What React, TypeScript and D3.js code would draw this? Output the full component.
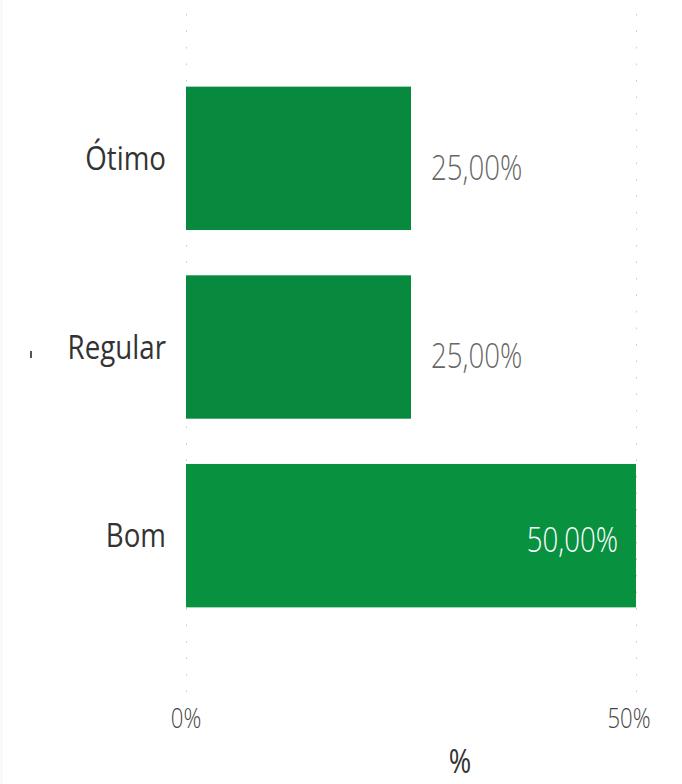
import React, { useRef, useEffect } from 'react';
import * as d3 from 'd3';

const categories = ['Ótimo', 'Regular', 'Bom'];
const values = [25, 25, 50];
const valueLabels = ['25,00%', '25,00%', '50,00%'];
const tickValues = [0, 50];
const tickLabels = ['0%', '50%'];

const W = 682;
const H = 784;
const FONT = "'Open Sans', 'DejaVu Sans Condensed', sans-serif";
const SX = 0.79; // the reference text is narrow and tall
const CAP = 0.714;

const App: React.FC = () => {
  const svgRef = useRef<SVGSVGElement>(null);

  useEffect(() => {
    if (!svgRef.current) return;
    const svg = d3.select(svgRef.current);
    svg.selectAll('*').remove();

    svg.append('rect').attr('width', W).attr('height', H).attr('fill', '#fff');
    // faint frame line at the left edge
    svg.append('rect')
      .attr('x', 0).attr('y', 0).attr('width', 3).attr('height', H)
      .attr('fill', '#f6fbf7');

    const x = d3.scaleLinear().domain([0, 50]).range([186, 636]);
    const y = d3.scaleBand<string>()
      .domain(categories)
      .range([64, 630])
      .paddingInner(0.24)
      .paddingOuter(0.12);

    // text placed by the vertical centre of its capitals
    const label = (g: any, tx: number, cy: number, size: number, anchor: string,
      fill: string, weight: number, txt: string, sx = SX) => {
      g.append('text')
        .attr('transform', `translate(${tx},${cy + (size * CAP) / 2}) scale(${sx},1)`)
        .attr('text-anchor', anchor)
        .attr('font-family', FONT)
        .attr('font-size', size)
        .attr('font-weight', weight)
        .attr('fill', fill)
        .text(txt);
    };

    // dotted gridlines
    svg.append('g')
      .selectAll('line')
      .data(tickValues)
      .enter()
      .append('line')
      .attr('x1', d => x(d) + 0.5)
      .attr('x2', d => x(d) + 0.5)
      .attr('y1', 14)
      .attr('y2', 692)
      .attr('stroke', '#c8c8c8')
      .attr('stroke-width', 1)
      .attr('stroke-dasharray', '1.5,15');

    // bars
    svg.append('g')
      .selectAll('rect')
      .data(values)
      .enter()
      .append('rect')
      .attr('x', x(0))
      .attr('y', (_, i) => y(categories[i])!)
      .attr('width', d => x(d) - x(0))
      .attr('height', y.bandwidth())
      .attr('fill', (_, i) => (i === 2 ? '#08913f' : '#088a3e'));

    const labels = svg.append('g');

    // value labels
    values.forEach((v, i) => {
      const mid = y(categories[i])! + y.bandwidth() / 2;
      if (v >= 50) {
        label(labels, x(v) - 18, mid + 4, 35, 'end', '#ffffff', 300, valueLabels[i]);
      } else {
        label(labels, x(v) + 20, mid + 9, 35, 'start', '#666666', 300, valueLabels[i]);
      }
    });

    // category labels
    categories.forEach(c => {
      label(labels, 166, y(c)! + y.bandwidth() / 2, 33, 'end', '#333333', 400, c, 0.84);
    });

    // tick labels (the right one sits clipped against the edge)
    tickValues.forEach((t, i) => {
      label(labels, i === 0 ? x(t) : x(t) - 7, 718, 28, 'middle', '#444444', 300, tickLabels[i]);
    });

    // axis title
    label(labels, 460, 762, 32, 'middle', '#333333', 400, '%', 0.85);

    // small clipped mark left of "Regular"
    svg.append('rect')
      .attr('x', 30).attr('y', 351).attr('width', 2).attr('height', 7)
      .attr('fill', '#555');
  }, []);

  return (
    <svg
      ref={svgRef}
      width={W}
      height={H}
      style={{ position: 'absolute', left: 0, top: 0, display: 'block' }}
    />
  );
};

export default App;
